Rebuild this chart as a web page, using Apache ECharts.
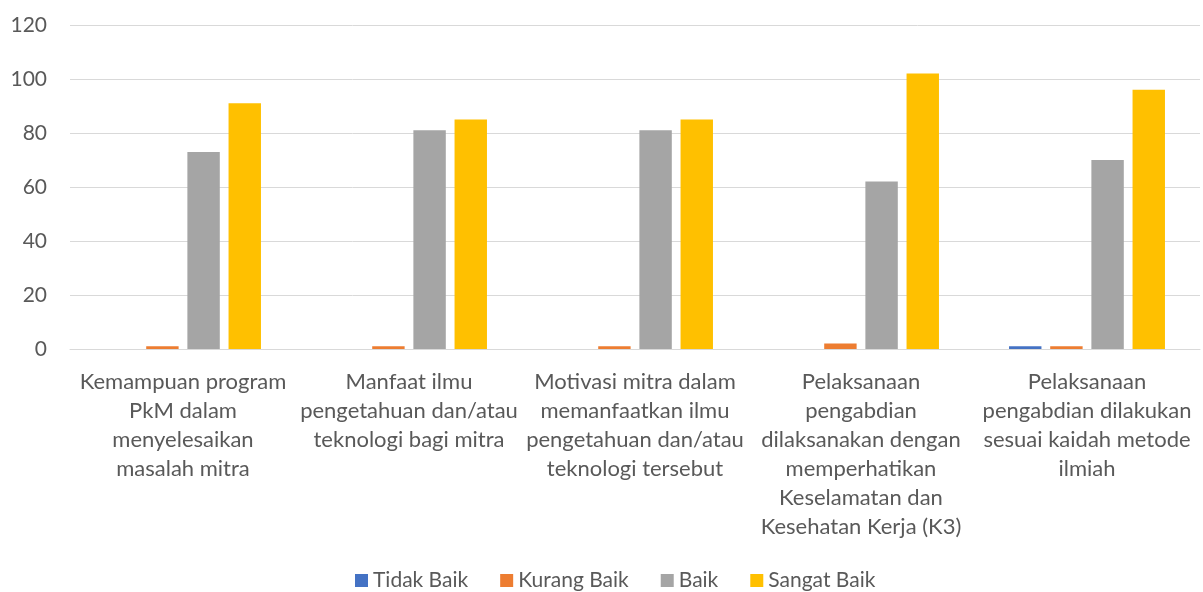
<!DOCTYPE html>
<html>
<head>
<meta charset="utf-8">
<script src="https://cdn.jsdelivr.net/npm/echarts@6/dist/echarts.min.js"></script>
<style>
  html, body { margin: 0; padding: 0; background: #fff; }
  #main { width: 1203px; height: 592px; }
</style>
</head>
<body>
<div id="main"></div>
<script>
// kategori (sumbu x)
const categories = [
  'Kemampuan program\nPkM dalam\nmenyelesaikan\nmasalah mitra',
  'Manfaat ilmu\npengetahuan dan/atau\nteknologi bagi mitra',
  'Motivasi mitra dalam\nmemanfaatkan ilmu\npengetahuan dan/atau\nteknologi tersebut',
  'Pelaksanaan\npengabdian\ndilaksanakan dengan\nmemperhatikan\nKeselamatan dan\nKesehatan Kerja (K3)',
  'Pelaksanaan\npengabdian dilakukan\nsesuai kaidah metode\nilmiah'
];
// nilai tiap seri
const tidakBaik = [0, 0, 0, 0, 1];
const kurangBaik = [1, 1, 1, 2, 1];
const baik = [73, 81, 81, 62, 70];
const sangatBaik = [91, 85, 85, 102, 96];
const yTicks = [0, 20, 40, 60, 80, 100, 120];

const font = 'Lato, "Open Sans", sans-serif';
const colors = ['#4472c4', '#ed7d31', '#a5a5a5', '#ffc000'];

function bar(name, data) {
  return { name: name, type: 'bar', data: data, barGap: '27%', barCategoryGap: '31%' };
}

let myChart = echarts.init(document.getElementById('main'));
myChart.setOption({
  animation: false,
  color: colors,
  grid: { left: 70, right: 3, top: 25, bottom: 243, containLabel: false },
  legend: {
    top: 565,
    left: 350,
    itemWidth: 13,
    itemHeight: 13,
    itemGap: 32,
    itemTextGap: 6,
    icon: 'rect',
    textStyle: { fontFamily: font, fontSize: 21, color: '#595959' },
    data: ['Tidak Baik', 'Kurang Baik', 'Baik', 'Sangat Baik']
  },
  xAxis: {
    type: 'category',
    data: categories,
    axisLine: { lineStyle: { color: '#d9d9d9', width: 1 } },
    axisTick: { show: false },
    axisLabel: {
      interval: 0,
      margin: 18,
      fontFamily: font,
      fontSize: 22,
      lineHeight: 29,
      color: '#595959',
      align: 'center'
    }
  },
  yAxis: {
    type: 'value',
    min: yTicks[0],
    max: yTicks[yTicks.length - 1],
    interval: 20,
    axisLine: { show: false },
    axisTick: { show: false },
    splitLine: { lineStyle: { color: '#d9d9d9', width: 1 } },
    axisLabel: { margin: 23, fontFamily: font, fontSize: 21, color: '#595959' }
  },
  series: [
    bar('Tidak Baik', tidakBaik),
    bar('Kurang Baik', kurangBaik),
    bar('Baik', baik),
    bar('Sangat Baik', sangatBaik)
  ]
});
</script>
</body>
</html>
